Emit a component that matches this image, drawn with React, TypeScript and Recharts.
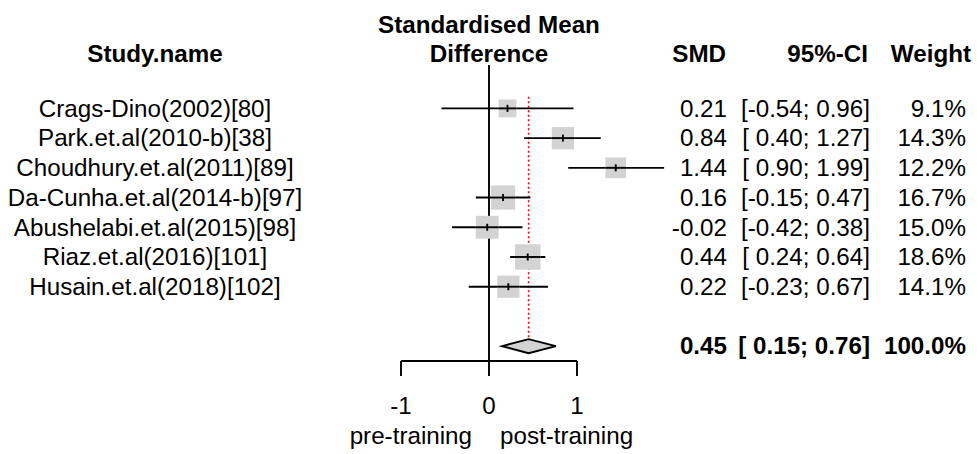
import React from 'react';
import { ScatterChart, Scatter, XAxis, YAxis, ReferenceLine, ReferenceArea } from 'recharts';

const studies = [
  'Crags-Dino(2002)[80]',
  'Park.et.al(2010-b)[38]',
  'Choudhury.et.al(2011)[89]',
  'Da-Cunha.et.al(2014-b)[97]',
  'Abushelabi.et.al(2015)[98]',
  'Riaz.et.al(2016)[101]',
  'Husain.et.al(2018)[102]',
];
const smd = [0.21, 0.84, 1.44, 0.16, -0.02, 0.44, 0.22];
const ciLower = [-0.54, 0.4, 0.9, -0.15, -0.42, 0.24, -0.23];
const ciUpper = [0.96, 1.27, 1.99, 0.47, 0.38, 0.64, 0.67];
const weights = [9.1, 14.3, 12.2, 16.7, 15.0, 18.6, 14.1];

const pooledSmd = 0.45;
const pooledLower = 0.15;
const pooledUpper = 0.76;
const pooledWeight = 100.0;
const pooledRow = 8;

const xTicks = [-1, 0, 1];
const rowTicks = [0, 1, 2, 3, 4, 5, 6, pooledRow];

const FONT = '"Liberation Sans", Arial, sans-serif';
const FS = 24.2;
const GRAY = '#d3d3d3';
const LW = 1.9;

const maxWeight = Math.max(...weights);

const fmtCi = (lo: number, hi: number) =>
  `[${lo < 0 ? '' : ' '}${lo.toFixed(2)}; ${hi.toFixed(2)}]`;

const data = studies.map((name, i) => ({
  name,
  x: smd[i],
  y: i,
  lo: ciLower[i],
  hi: ciUpper[i],
  w: weights[i],
}));

function StudySquare(props: any) {
  const { cx, cy, payload } = props;
  const side = 25.5 * Math.sqrt(payload.w / maxWeight);
  return (
    <g>
      <rect x={cx - side / 2} y={cy - side / 2} width={side} height={side} fill={GRAY} />
      <line x1={cx - side / 2} x2={cx + side / 2} y1={cy} y2={cy} stroke="#000" strokeWidth={LW} />
      <line x1={cx} x2={cx} y1={cy - 3.5} y2={cy + 3.5} stroke="#000" strokeWidth={LW} />
    </g>
  );
}

function Diamond(props: any) {
  const { x, y, width, height } = props;
  const left = width < 0 ? x + width : x;
  const top = height < 0 ? y + height : y;
  const w = Math.abs(width);
  const h = Math.abs(height);
  const tip = left + (w * (pooledSmd - pooledLower)) / (pooledUpper - pooledLower);
  const pts = `${left},${top + h / 2} ${tip},${top} ${left + w},${top + h / 2} ${tip},${top + h}`;
  return <polygon points={pts} fill={GRAY} stroke="#000" strokeWidth={LW} />;
}

function RowTick(props: any) {
  const { y, payload } = props;
  const row = payload.value;
  const by = y + 8.3;
  if (row === pooledRow) {
    return (
      <g fontFamily={FONT} fontSize={FS} fontWeight={700} fill="#000">
        <text x={727} y={by} textAnchor="end">{pooledSmd.toFixed(2)}</text>
        <text x={870} y={by} textAnchor="end">{fmtCi(pooledLower, pooledUpper)}</text>
        <text x={966} y={by} textAnchor="end">{`${pooledWeight.toFixed(1)}%`}</text>
      </g>
    );
  }
  return (
    <g fontFamily={FONT} fontSize={FS} fill="#000">
      <text x={155} y={by} textAnchor="middle">{studies[row]}</text>
      <text x={727} y={by} textAnchor="end">{smd[row].toFixed(2)}</text>
      <text x={870} y={by} textAnchor="end">{fmtCi(ciLower[row], ciUpper[row])}</text>
      <text x={966} y={by} textAnchor="end">{`${weights[row].toFixed(1)}%`}</text>
    </g>
  );
}

function XTick(props: any) {
  const { x, y, payload } = props;
  return (
    <text x={x} y={y + 36} textAnchor="middle" fontFamily={FONT} fontSize={FS} fill="#000">
      {payload.value}
    </text>
  );
}

export default function App() {
  return (
    <div style={{ position: 'absolute', left: 0, top: 0, width: 977, height: 454, background: '#fff' }}>
      <ScatterChart width={977} height={454} margin={{ top: 65, right: 312, bottom: 0, left: 0 }}>
        <XAxis
          type="number"
          dataKey="x"
          domain={[-1, 2]}
          ticks={xTicks}
          allowDataOverflow
          axisLine={false}
          tickSize={15}
          tickLine={{ stroke: '#000', strokeWidth: LW }}
          tick={<XTick />}
          height={93}
        />
        <YAxis
          type="number"
          dataKey="y"
          domain={[-1.46, 8.5]}
          reversed
          ticks={rowTicks}
          allowDataOverflow
          axisLine={false}
          tickLine={false}
          tick={<RowTick />}
          width={401}
        />
        <ReferenceLine x={0} stroke="#000" strokeWidth={LW} ifOverflow="visible" />
        <ReferenceLine
          segment={[{ x: -1, y: 8.5 }, { x: 1, y: 8.5 }]}
          stroke="#000"
          strokeWidth={LW}
          ifOverflow="visible"
        />
        <ReferenceLine
          segment={[{ x: pooledSmd, y: -0.39 }, { x: pooledSmd, y: 7.76 }]}
          stroke="#ff0000"
          strokeWidth={1.6}
          strokeDasharray="2 2.5"
          ifOverflow="visible"
        />
        {data.map((d) => (
          <ReferenceLine
            key={d.name}
            segment={[{ x: d.lo, y: d.y }, { x: d.hi, y: d.y }]}
            stroke="#000"
            strokeWidth={LW}
            ifOverflow="visible"
          />
        ))}
        <ReferenceArea
          x1={pooledLower}
          x2={pooledUpper}
          y1={pooledRow - 0.236}
          y2={pooledRow + 0.236}
          shape={<Diamond />}
          ifOverflow="visible"
        />
        <Scatter data={data} shape={<StudySquare />} isAnimationActive={false} />
      </ScatterChart>
      <svg
        width={977}
        height={454}
        style={{ position: 'absolute', left: 0, top: 0, pointerEvents: 'none' }}
        fontFamily={FONT}
        fontSize={FS}
      >
        <g fontWeight={700}>
          <text x={155} y={62} textAnchor="middle">Study.name</text>
          <text x={489} y={33} textAnchor="middle">Standardised Mean</text>
          <text x={489} y={62} textAnchor="middle">Difference</text>
          <text x={726} y={62} textAnchor="end">SMD</text>
          <text x={868} y={62} textAnchor="end">95%-CI</text>
          <text x={971} y={62} textAnchor="end">Weight</text>
        </g>
        <text x={472} y={444} textAnchor="end">pre-training</text>
        <text x={500} y={444} textAnchor="start">post-training</text>
      </svg>
    </div>
  );
}
